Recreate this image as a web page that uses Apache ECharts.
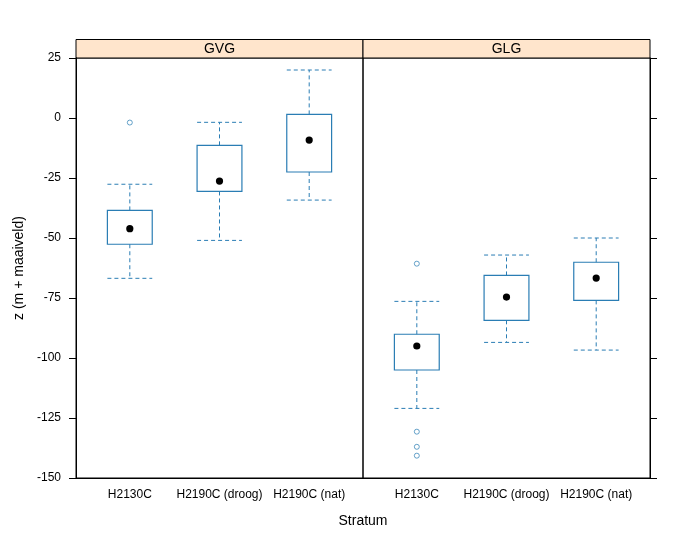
<!DOCTYPE html>
<html>
<head>
<meta charset="utf-8">
<script src="https://cdn.jsdelivr.net/npm/echarts@6/dist/echarts.min.js"></script>
<style>
  html, body { margin: 0; padding: 0; background: #fff; }
  #chart { width: 689px; height: 542px; }
</style>
</head>
<body>
<div id="chart"></div>
<script>
// strata shown in each panel
const categories = ['H2130C', 'H2190C (droog)', 'H2190C (nat)']
const panels = ['GVG', 'GLG']

// [lower whisker, Q1, median, Q3, upper whisker] per stratum
const gvgStats = [
  [-66.8, -52.6, -46.1, -38.5, -27.6],
  [-51.0, -30.6, -26.3, -11.4, -1.8],
  [-34.2, -22.5, -9.2, 1.5, 20.0]
]
const glgStats = [
  [-121.0, -105.0, -95.0, -90.1, -76.4],
  [-93.5, -84.3, -74.6, -65.6, -57.1],
  [-96.7, -76.0, -66.7, -60.1, -50.0]
]

// outliers: [stratum index (1-based), value]
const gvgOutliers = [[1, -1.9]]
const glgOutliers = [[1, -60.7], [1, -130.7], [1, -137.0], [1, -140.7]]

const BLUE = '#2a7db4'
const FONT = "'Liberation Sans', Arial, sans-serif"

const chart = echarts.init(document.getElementById('chart'))

const renderBox = (params, api) => {
  const x = api.value(0)
  const lo = api.coord([x, api.value(1)])
  const q1 = api.coord([x, api.value(2)])
  const med = api.coord([x, api.value(3)])
  const q3 = api.coord([x, api.value(4)])
  const hi = api.coord([x, api.value(5)])
  const hw = api.size([1, 0])[0] * 0.25
  const dashed = { stroke: BLUE, lineWidth: 1, lineDash: [4, 3], fill: null }
  return {
    type: 'group',
    children: [
      { type: 'line', shape: { x1: q3[0], y1: q3[1], x2: hi[0], y2: hi[1] }, style: dashed },
      { type: 'line', shape: { x1: q1[0], y1: q1[1], x2: lo[0], y2: lo[1] }, style: dashed },
      { type: 'line', shape: { x1: hi[0] - hw, y1: hi[1], x2: hi[0] + hw, y2: hi[1] }, style: dashed },
      { type: 'line', shape: { x1: lo[0] - hw, y1: lo[1], x2: lo[0] + hw, y2: lo[1] }, style: dashed },
      {
        type: 'rect',
        shape: { x: q3[0] - hw, y: q3[1], width: hw * 2, height: q1[1] - q3[1] },
        style: { stroke: BLUE, lineWidth: 1.2, fill: null }
      },
      { type: 'circle', shape: { cx: med[0], cy: med[1], r: 3.6 }, style: { fill: '#000' } }
    ]
  }
}

const toBoxData = stats => stats.map((s, i) => [i + 1, ...s])

const gridTop = 58
const gridH = 420
const gridW = 287
const lefts = [76, 363]

const xAxisFor = idx => ({
  type: 'value',
  gridIndex: idx,
  min: 0.4,
  max: 3.6,
  axisLine: { show: true, onZero: false, lineStyle: { color: '#000' } },
  axisTick: { show: false },
  splitLine: { show: false },
  axisLabel: {
    customValues: [1, 2, 3],
    formatter: v => categories[Math.round(v) - 1] || '',
    color: '#000',
    fontFamily: FONT,
    fontSize: 12,
    margin: 11
  }
})

const yBase = {
  type: 'value',
  min: -150,
  max: 25,
  interval: 25,
  splitLine: { show: false }
}

const tickOnly = (gridIndex, position) => ({
  ...yBase,
  gridIndex,
  position,
  axisLine: { show: true, onZero: false, lineStyle: { color: '#000' } },
  axisTick: { show: true, inside: false, length: 7, lineStyle: { color: '#000', width: 1 } },
  axisLabel: { show: false }
})

const yAxes = [
  // labels + title for the left panel
  {
    ...yBase,
    gridIndex: 0,
    position: 'left',
    axisLine: { show: true, onZero: false, lineStyle: { color: '#000' } },
    axisTick: { show: false },
    axisLabel: { color: '#000', fontFamily: FONT, fontSize: 12, margin: 15 },
    name: 'z (m + maaiveld)',
    nameLocation: 'middle',
    nameRotate: 90,
    nameGap: 50,
    nameTextStyle: { color: '#000', fontFamily: FONT, fontSize: 14 }
  },
  tickOnly(1, 'right'),
  tickOnly(0, 'left')
]

const stripGraphics = panels.flatMap((p, i) => [
  {
    type: 'rect',
    shape: { x: lefts[i], y: 39.5, width: gridW, height: gridTop - 39.5 },
    style: { fill: '#ffe5cc', stroke: '#000', lineWidth: 1 },
    silent: true
  },
  {
    type: 'text',
    x: lefts[i] + gridW / 2,
    y: 49.5,
    style: {
      text: p,
      fill: '#000',
      font: `14px ${FONT}`,
      textAlign: 'center',
      textVerticalAlign: 'middle'
    },
    silent: true
  }
])

const outlierStyle = { color: '#fff', borderColor: BLUE, borderWidth: 0.9 }

const option = {
  animation: false,
  backgroundColor: '#fff',
  grid: lefts.map(l => ({
    left: l,
    top: gridTop,
    width: gridW,
    height: gridH,
    show: true,
    borderColor: '#000',
    borderWidth: 1
  })),
  xAxis: [xAxisFor(0), xAxisFor(1)],
  yAxis: yAxes,
  graphic: [
    ...stripGraphics,
    {
      type: 'text',
      x: 363,
      y: 521,
      style: {
        text: 'Stratum',
        fill: '#000',
        font: `14px ${FONT}`,
        textAlign: 'center',
        textVerticalAlign: 'middle'
      }
    }
  ],
  series: [
    { type: 'custom', xAxisIndex: 0, yAxisIndex: 0, data: toBoxData(gvgStats), renderItem: renderBox, encode: { x: 0, y: [1, 2, 3, 4, 5] } },
    { type: 'custom', xAxisIndex: 1, yAxisIndex: 1, data: toBoxData(glgStats), renderItem: renderBox, encode: { x: 0, y: [1, 2, 3, 4, 5] } },
    {
      type: 'scatter', xAxisIndex: 0, yAxisIndex: 0, data: gvgOutliers,
      symbol: 'circle', symbolSize: 5, itemStyle: outlierStyle
    },
    {
      type: 'scatter', xAxisIndex: 1, yAxisIndex: 1, data: glgOutliers,
      symbol: 'circle', symbolSize: 5, itemStyle: outlierStyle
    }
  ]
}

chart.setOption(option)
</script>
</body>
</html>
